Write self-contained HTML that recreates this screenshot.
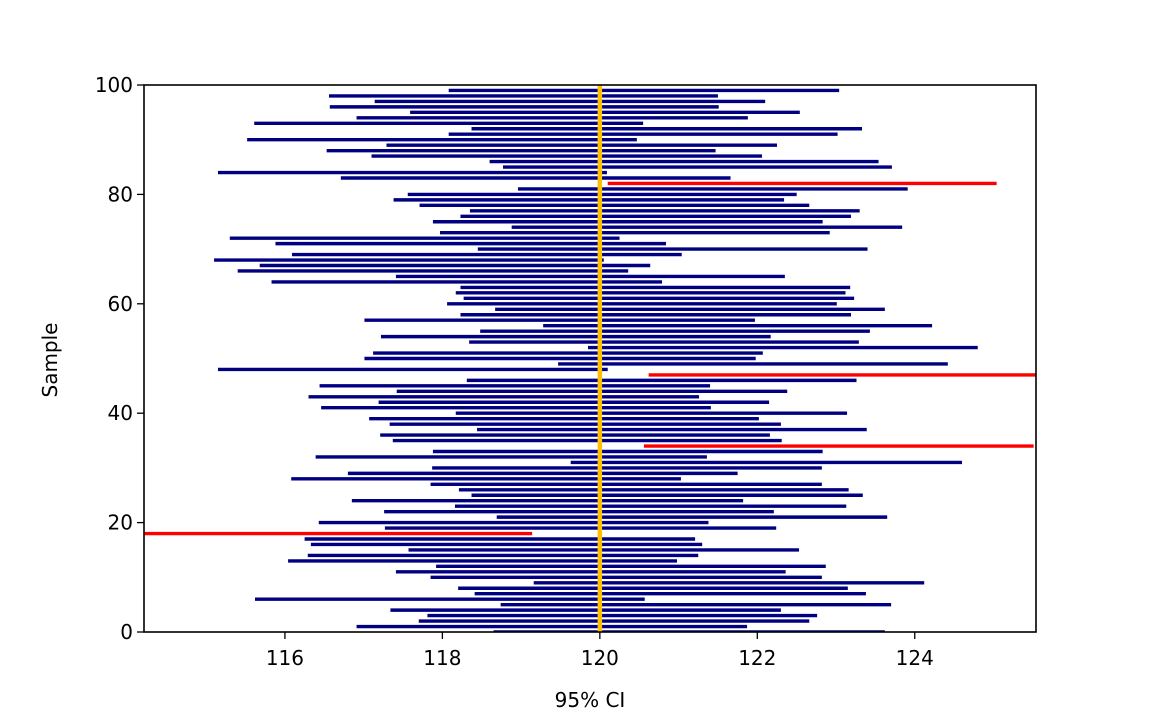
<!DOCTYPE html>
<html><head><meta charset="utf-8"><style>
html,body{margin:0;padding:0;background:#fff;}
svg{display:block;font-family:"DejaVu Sans","Liberation Sans",sans-serif;}
</style></head><body>
<svg id="chart" width="1152" height="711" xmlns="http://www.w3.org/2000/svg">
<defs><clipPath id="plotclip"><rect x="144" y="85" width="892" height="547"/></clipPath></defs>
<rect x="0" y="0" width="1152" height="711" fill="#fff"/>
<g id="marks" clip-path="url(#plotclip)"></g>
<g id="axes"></g>
<text x="590" y="707" text-anchor="middle" font-size="20">95% CI</text>
<text x="57" y="360" text-anchor="middle" font-size="20" transform="rotate(-90 57 360)">Sample</text>
</svg>
<script>
const trueMean = 120;
const lows = [118.65,116.91,117.70,117.81,117.34,118.74,115.62,118.41,118.20,119.16,
117.85,117.41,117.92,116.04,116.29,117.57,116.33,116.25,114.18,117.27,
116.43,118.69,117.26,118.16,116.85,118.37,118.21,117.85,116.08,116.80,
117.87,119.63,116.39,117.88,120.56,117.37,117.21,118.44,117.33,117.07,
118.17,116.46,117.19,116.30,117.42,116.44,118.31,120.62,115.15,119.47,
117.01,117.12,119.85,118.34,117.22,118.48,119.28,117.01,118.23,118.67,
118.06,118.27,118.17,118.23,115.83,117.41,115.40,115.68,115.10,116.09,
118.45,115.88,115.30,117.97,118.88,117.88,118.23,118.35,117.71,117.38,
117.56,118.96,120.10,116.71,115.15,118.77,118.60,117.10,116.53,117.29,
115.52,118.08,118.37,115.61,116.91,117.59,116.57,117.14,116.56,118.08];
const highs = [123.62,121.87,122.66,122.76,122.30,123.70,120.57,123.38,123.15,124.12,
122.82,122.36,122.87,120.98,121.25,122.53,121.30,121.21,119.14,122.24,
121.38,123.65,122.21,123.13,121.82,123.34,123.16,122.82,121.03,121.75,
122.82,124.60,121.36,122.83,125.51,122.31,122.16,123.39,122.30,122.02,
123.14,121.41,122.15,121.26,122.38,121.40,123.26,125.58,120.10,124.42,
121.98,122.07,124.80,123.29,122.17,123.43,124.22,121.97,123.19,123.62,
123.01,123.23,123.12,123.18,120.79,122.35,120.36,120.64,120.05,121.04,
123.40,120.84,120.25,122.92,123.84,122.83,123.19,123.30,122.66,122.34,
122.50,123.91,125.04,121.66,120.09,123.71,123.54,122.06,121.47,122.25,
120.47,123.02,123.33,120.55,121.88,122.54,121.51,122.10,121.50,123.04];
const xTicks = [116,118,120,122,124];
const yTicks = [0,20,40,60,80,100];

const NS = "http://www.w3.org/2000/svg";
const L = 144, R = 1036, T = 85, B = 632;
const xMin = 114.21, xMax = 125.54, yMin = 0, yMax = 100;
const xs = v => L + (v - xMin) / (xMax - xMin) * (R - L);
const ys = v => B - (v - yMin) / (yMax - yMin) * (B - T);
function mk(tag, attrs, parent) {
  const e = document.createElementNS(NS, tag);
  for (const k in attrs) e.setAttribute(k, attrs[k]);
  parent.appendChild(e); return e;
}
const marks = document.getElementById('marks');
const axes = document.getElementById('axes');
for (let i = 0; i < lows.length; i++) {
  const miss = lows[i] > trueMean || highs[i] < trueMean;
  const ln = mk('line', {x1: xs(lows[i]), x2: xs(highs[i]), y1: ys(i), y2: ys(i),
    stroke: miss ? '#ff0000' : '#000080', 'stroke-width': 3.4}, marks);
  
  
}
const ref = mk('line', {x1: xs(trueMean), x2: xs(trueMean), y1: T, y2: B, stroke: '#ffc000', 'stroke-width': 4.5}, marks);



const frame = mk('rect', {x: L, y: T, width: R - L, height: B - T, fill: 'none', stroke: '#000', 'stroke-width': 1.6}, axes);


xTicks.forEach(v => {
  const t = mk('line', {x1: xs(v), x2: xs(v), y1: B, y2: B + 7, stroke: '#000', 'stroke-width': 1.3}, axes);
  
  
  const lb = mk('text', {x: xs(v), y: B + 33, 'text-anchor': 'middle', 'font-size': 20}, axes);
  lb.textContent = v;
  
  
});
yTicks.forEach(v => {
  const t = mk('line', {x1: L - 7, x2: L, y1: ys(v), y2: ys(v), stroke: '#000', 'stroke-width': 1.3}, axes);
  
  
  const lb = mk('text', {x: L - 11, y: ys(v) + 7, 'text-anchor': 'end', 'font-size': 20}, axes);
  lb.textContent = v;
  
  
});
</script>
</body></html>
